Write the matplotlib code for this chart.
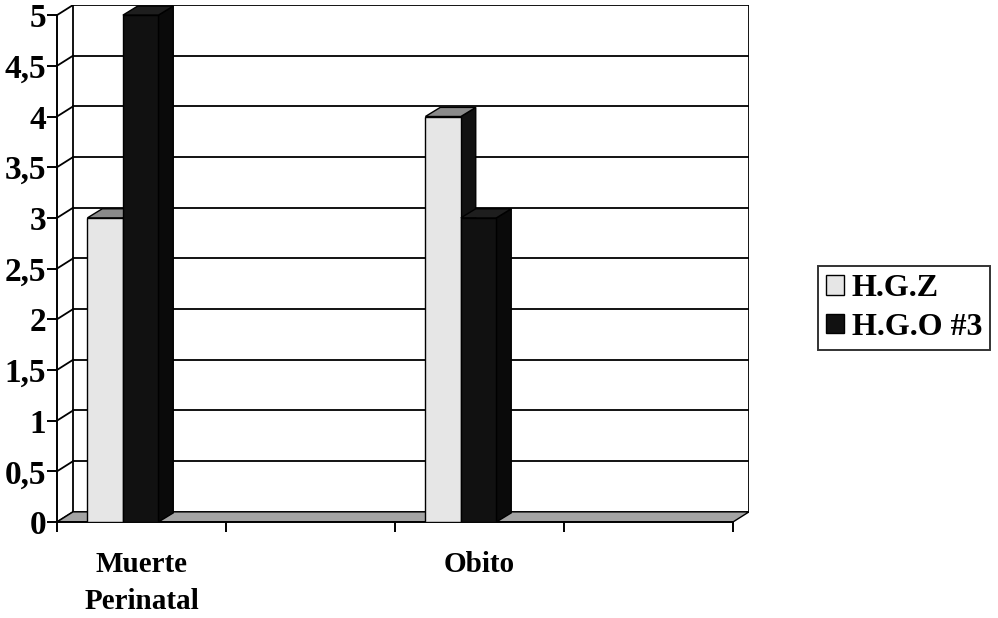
import matplotlib.pyplot as plt
from matplotlib.patches import Polygon, Patch

plt.rcParams['font.family'] = 'Liberation Serif'
plt.rcParams['font.weight'] = 'bold'

categories = ["Muerte\nPerinatal", "", "Obito", ""]
series_names = ["H.G.Z", "H.G.O #3"]
hgz = [3, 0, 4, 0]
hgo = [5, 0, 3, 0]
yticks = [0, 0.5, 1, 1.5, 2, 2.5, 3, 3.5, 4, 4.5, 5]
ytick_labels = ["0", "0,5", "1", "1,5", "2", "2,5", "3", "3,5", "4", "4,5", "5"]

# depth of the chart box and of each column, in data units
wall_dx, wall_dy = 0.095, 0.1
bar_dx, bar_dy = 0.088, 0.09
bar_w = 0.21

fig = plt.figure(figsize=(9.98, 6.18), dpi=100)
ax = fig.add_axes([57 / 998, 1 - 522 / 618, (749 - 57) / 998, (522 - 5) / 618])
ncat = len(categories)
ax.set_xlim(0, ncat + wall_dx)
ax.set_ylim(0, 5 + wall_dy)

for s in ["top", "right"]:
    ax.spines[s].set_visible(False)
ax.spines["left"].set_bounds(0, 5)
ax.spines["bottom"].set_bounds(0, ncat)
ax.spines["left"].set_linewidth(1.4)
ax.spines["bottom"].set_linewidth(1.4)

# back wall: gridlines, edges and the slanted links to the front axis
for v in yticks:
    ax.plot([wall_dx, ncat + wall_dx], [v + wall_dy, v + wall_dy], color="black", lw=1.3, zorder=1)
    ax.plot([0, wall_dx], [v, v + wall_dy], color="black", lw=1.3, zorder=1)
ax.plot([wall_dx, wall_dx], [wall_dy, 5 + wall_dy], color="black", lw=1.3, zorder=1)
ax.plot([ncat + wall_dx] * 2, [wall_dy, 5 + wall_dy], color="black", lw=1.3, zorder=1)

# floor
floor = Polygon([(0, 0), (ncat, 0), (ncat + wall_dx, wall_dy), (wall_dx, wall_dy)],
                closed=True, facecolor="#a4a4a4", edgecolor="black", lw=1.0, zorder=2)
ax.add_patch(floor)


def column(x0, h, front, side, top, z):
    if h <= 0:
        return
    x1 = x0 + bar_w
    faces = [
        ([(x1, 0), (x1 + bar_dx, bar_dy), (x1 + bar_dx, h + bar_dy), (x1, h)], side),
        ([(x0, h), (x1, h), (x1 + bar_dx, h + bar_dy), (x0 + bar_dx, h + bar_dy)], top),
        ([(x0, 0), (x1, 0), (x1, h), (x0, h)], front),
    ]
    for pts, col in faces:
        ax.add_patch(Polygon(pts, closed=True, facecolor=col, edgecolor="black", lw=1.0, zorder=z))


for i in range(ncat):
    column(i + 0.18, hgz[i], "#e6e6e6", "#111111", "#8a8a8a", 3)
    column(i + 0.18 + bar_w, hgo[i], "#111111", "#0a0a0a", "#1e1e1e", 4)

ax.set_yticks(yticks)
ax.set_yticklabels(ytick_labels, fontsize=24, fontweight="bold")
ax.tick_params(axis="y", direction="out", length=7, width=1.4, pad=1)
ax.set_xticks(range(ncat + 1))
ax.set_xticklabels([])
ax.tick_params(axis="x", which="major", direction="out", length=7, width=1.4)
ax.set_xticks([i + 0.5 for i in range(ncat)], minor=True)
ax.set_xticklabels(categories, minor=True, fontsize=21, fontweight="bold", linespacing=1.45)
ax.tick_params(axis="x", which="minor", length=0, pad=21)

handles = [Patch(facecolor="#e6e6e6", edgecolor="black"), Patch(facecolor="#111111", edgecolor="black")]
leg = fig.legend(handles, series_names, loc="center left", bbox_to_anchor=(818 / 998, 1 - 308 / 618),
                 prop={"family": "Liberation Serif", "weight": "bold", "size": 23},
                 frameon=True, fancybox=False, edgecolor="black", handlelength=0.55, handleheight=0.55,
                 handletextpad=0.25, borderpad=0.25, labelspacing=0.3, borderaxespad=0)
leg.get_frame().set_linewidth(1.4)

fig.savefig("out.png", dpi=100, facecolor="white")
